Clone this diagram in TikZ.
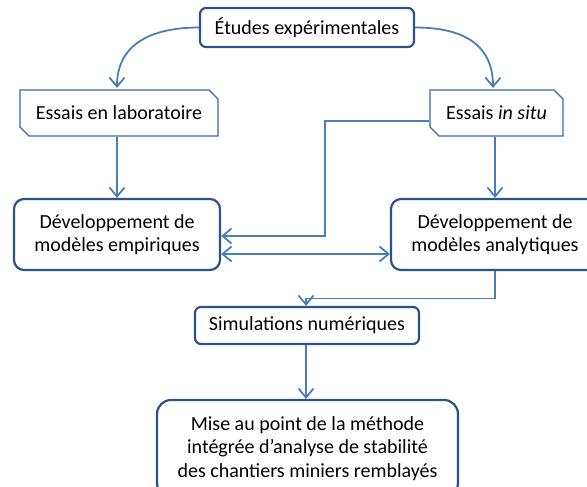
\documentclass[tikz,border=0pt]{standalone}
\usepackage{fontspec}
\setmainfont{Carlito}
\usetikzlibrary{arrows.meta,shapes.misc}
\definecolor{boxdark}{HTML}{2C5287}
\definecolor{boxmid}{HTML}{3D67A8}
\definecolor{linkblue}{HTML}{4A7EBB}
\tikzset{
  mainbox/.style={draw=boxdark, line width=2.2pt, fill=white, rounded corners=#1, align=center, inner sep=0pt, font=\fontsize{20}{23.5}\selectfont},
  mainbox/.default=6pt,
  snipbox/.style={draw=boxmid, line width=1.3pt, fill=white, chamfered rectangle, chamfered rectangle corners={north east,south west}, chamfered rectangle xsep=4.5pt, chamfered rectangle ysep=4.5pt, inner sep=0pt, align=center, font=\fontsize{20}{23.5}\selectfont},
  link/.style={draw=linkblue, line width=1.8pt},
  tip/.tip={Straight Barb[length=9pt,width=15pt,line width=1.8pt]},
  arr/.style={link, -tip},
  darr/.style={link, tip-tip}
}
\begin{document}
\begin{tikzpicture}[x=1pt,y=-1pt]
\useasboundingbox (0,0) rectangle (587,487);
\clip (0,0) rectangle (587,487);
\node[mainbox, minimum width=214pt, minimum height=39pt] (top) at (307,27.5) {Études expérimentales};
\node[snipbox, minimum width=198pt, minimum height=46pt] (lab) at (119,113) {Essais en laboratoire};
\node[snipbox, minimum width=133pt, minimum height=46pt] (situ) at (496.5,113) {Essais \textit{in situ}};
\node[mainbox=10pt, minimum width=206pt, minimum height=71pt] (emp) at (117,234.5) {Développement de\\modèles empiriques};
\node[mainbox=10pt, minimum width=208pt, minimum height=71pt] (ana) at (495,234.5) {Développement de\\modèles analytiques};
\node[mainbox, minimum width=224pt, minimum height=37pt] (sim) at (307,325.5) {Simulations numériques};
\node[mainbox=14pt, minimum width=301pt, minimum height=97pt] (fin) at (307.5,448.5) {Mise au point de la méthode\\intégrée d’analyse de stabilité\\des chantiers miniers remblayés};
\coordinate (labtop) at (117,88);
\coordinate (situtop) at (493,88);
\draw[arr] (top.west) .. controls (150,27.5) and (117,45) .. (labtop);
\draw[arr] (top.east) .. controls (464,27.5) and (493,45) .. (situtop);
\draw[arr] (lab.south -| emp.north) -- (emp.north);
\draw[arr] (situ.south -| ana.north) -- (ana.north);
\coordinate (c1) at (325,121);
\coordinate (c2) at (325,236);
\draw[arr] (situ.west |- c1) -- (c1) -- (c2) -- (c2 -| emp.east);
\coordinate (d1) at (0,254);
\draw[darr] (d1 -| emp.east) -- (d1 -| ana.west);
\coordinate (e1) at (495,298.5);
\coordinate (e2) at (306,298.5);
\draw[arr] (ana.south) -- (e1) -- (e2) -- (e2 |- sim.north);
\draw[arr] (sim.south -| e2) -- (e2 |- fin.north);
\end{tikzpicture}
\end{document}
